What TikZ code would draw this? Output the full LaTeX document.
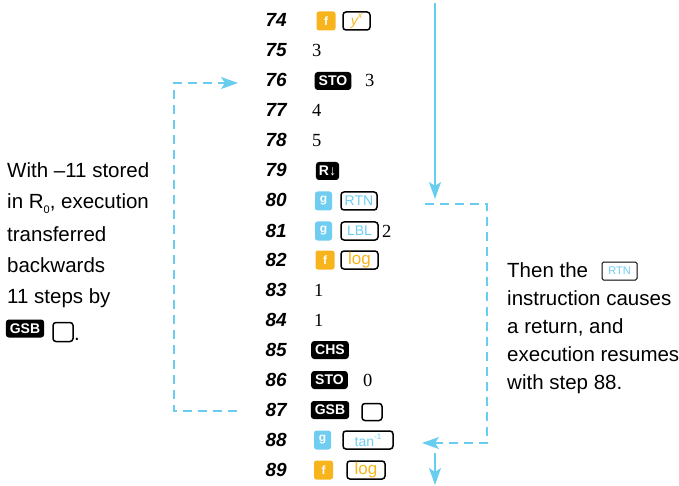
\documentclass[tikz,border=0pt]{standalone}
\usepackage{fontspec}
\usetikzlibrary{arrows.meta}
\newfontfamily\SansF{Liberation Sans}
\newfontfamily\SerifF{Liberation Serif}
\newcommand\TxtF{\SansF\fontsize{20.5}{24}\selectfont}
\newcommand\StepF{\SansF\bfseries\itshape\fontsize{19}{20}\selectfont}
\newcommand\ValF{\SerifF\fontsize{18.5}{20}\selectfont}
\newcommand\KeyF{\SansF\bfseries\fontsize{14}{16}\selectfont}
\newcommand\FgF{\SansF\bfseries\fontsize{12}{13}\selectfont}
\newcommand\OkF{\SansF\fontsize{14}{16}\selectfont}
\definecolor{lblue}{RGB}{105,205,240}
\definecolor{gblue}{RGB}{110,205,240}
\definecolor{forange}{RGB}{248,180,28}
\tikzset{
  blackkey/.style={fill=black, text=white, font=\KeyF, rounded corners=3pt, inner xsep=4pt, inner ysep=0pt, minimum height=18pt},
  fkey/.style={fill=forange, text=white, font=\FgF, rounded corners=2.5pt, inner sep=0pt, minimum width=19pt, minimum height=19pt},
  gkey/.style={fill=gblue, text=white, font=\FgF, rounded corners=2.5pt, inner sep=0pt, minimum width=17pt, minimum height=19pt},
  okey/.style={draw=black, line width=1.5pt, fill=white, rounded corners=3pt, inner sep=0pt, minimum height=18pt, font=\OkF},
  stepno/.style={font=\StepF, anchor=base east, inner sep=0pt},
  val/.style={font=\ValF, anchor=base west, inner sep=0pt},
  txt/.style={font=\TxtF, anchor=base west, inner sep=0pt},
  flow/.style={draw=lblue, line width=1.6pt},
  dashflow/.style={flow, dash pattern=on 9pt off 6pt},
  arr/.style={-{Stealth[length=17pt,width=12pt,inset=4pt]}}
}
\begin{document}
\begin{tikzpicture}[x=1pt,y=-1pt]
\useasboundingbox (0,0) rectangle (679,486);
% step numbers
\node[stepno] (s74) at (287,27) {74};
\node[stepno] (s75) at (287,57) {75};
\node[stepno] (s76) at (287,87) {76};
\node[stepno] (s77) at (287,117) {77};
\node[stepno] (s78) at (287,147) {78};
\node[stepno] (s79) at (287,177) {79};
\node[stepno] (s80) at (287,207) {80};
\node[stepno] (s81) at (287,237) {81};
\node[stepno] (s82) at (287,266) {82};
\node[stepno] (s83) at (287,296) {83};
\node[stepno] (s84) at (287,326) {84};
\node[stepno] (s85) at (287,356) {85};
\node[stepno] (s86) at (287,386) {86};
\node[stepno] (s87) at (287,416) {87};
\node[stepno] (s88) at (287,446) {88};
\node[stepno] (s89) at (287,476) {89};
% 74
\node[fkey] (f74) at (326,21) {f};
\node[okey, minimum width=27pt, text=forange] (k74) at (356.5,21) {\itshape y\raisebox{0.45em}{\fontsize{9}{9}\selectfont x}};
% 75
\node[val] (v75) at (312,57) {3};
% 76
\node[blackkey] (sto76) at (333,81) {STO};
\node[val] (v76) at (365,87) {3};
% 77, 78
\node[val] (v77) at (312,117) {4};
\node[val] (v78) at (312,147) {5};
% 79
\node[blackkey, inner xsep=3pt] (r79) at (327.5,171) {R↓};
% 80
\node[gkey] (g80) at (323.5,201) {g};
\node[okey, minimum width=36pt, text=gblue] (k80) at (359,201) {RTN};
% 81
\node[gkey] (g81) at (323.5,231) {g};
\node[okey, minimum width=37pt, text=gblue] (k81) at (359.5,231) {LBL};
\node[val] (v81) at (382,237) {2};
% 82
\node[fkey] (f82) at (325,260) {f};
\node[okey, minimum width=37pt, text=forange, font=\SansF\fontsize{17}{18}\selectfont] (k82) at (359.5,260) {log};
% 83, 84
\node[val] (v83) at (314,296) {1};
\node[val] (v84) at (314,326) {1};
% 85
\node[blackkey, minimum width=36pt] (chs85) at (330,350) {CHS};
% 86
\node[blackkey, minimum width=35pt] (sto86) at (329.5,380) {STO};
\node[val] (v86) at (363,386) {0};
% 87
\node[blackkey, minimum width=36pt] (gsb87) at (330,410) {GSB};
\node[okey, minimum width=20pt, minimum height=17pt] (b87) at (372,412) {};
% 88
\node[gkey] (g88) at (322.5,440) {g};
\node[okey, minimum width=50pt, text=gblue] (k88) at (368,440) {tan\raisebox{0.5em}{\fontsize{8}{8}\selectfont -1}};
% 89
\node[fkey] (f89) at (323.5,470) {f};
\node[okey, minimum width=38pt, text=forange, font=\SansF\fontsize{17}{18}\selectfont] (k89) at (366,470) {log};
% left text
\node[txt] (l1) at (7,178) {With –11 stored};
\node[txt] (l2) at (7,209) {in R\raisebox{-0.2em}{\fontsize{11}{11}\selectfont 0}, execution};
\node[txt] (l3) at (7,241) {transferred};
\node[txt] (l4) at (7,272) {backwards};
\node[txt] (l5) at (7,303) {11 steps by};
\node[blackkey, minimum width=36pt] (lgsb) at (25,328.5) {GSB};
\node[okey, minimum width=20pt, minimum height=19pt] (lbox) at (63,332) {};
\node[txt] (ldot) at (74,340) {.};
% right text
\node[txt] (r1) at (507,277) {Then the};
\node[okey, minimum width=35pt, text=gblue, line width=1pt, rounded corners=1.5pt, font=\SansF\fontsize{11}{12}\selectfont] (rrtn) at (619.5,271) {RTN};
\node[txt] (r2) at (507,305) {instruction causes};
\node[txt] (r3) at (507,333) {a return, and};
\node[txt] (r4) at (507,361) {execution resumes};
\node[txt] (r5) at (507,389) {with step 88.};
% connectors
\coordinate (T0) at (435,3);
\coordinate (T1) at (435,199);
\coordinate (R1) at (425,204);
\coordinate (R2) at (487,443);
\coordinate (R3) at (422,443);
\coordinate (B0) at (435,453);
\coordinate (B1) at (435,485);
\coordinate (L1) at (237,411);
\coordinate (L2) at (174,83);
\coordinate (L3) at (238,83);
\draw[flow, arr] (T0) -- (T1);
\draw[dashflow, arr] (R1) -| (R2) -- (R3);
\draw[flow, arr] (B0) -- (B1);
\draw[dashflow, arr] (L1) -| (L2) -- (L3);
\end{tikzpicture}
\end{document}
